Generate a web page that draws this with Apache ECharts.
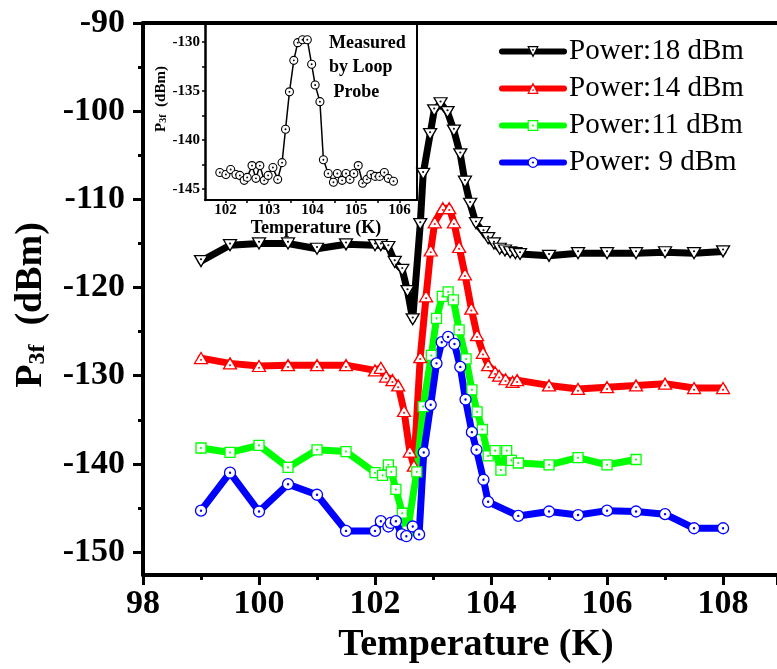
<!DOCTYPE html>
<html>
<head>
<meta charset="utf-8">
<script src="https://cdn.jsdelivr.net/npm/echarts@6/dist/echarts.min.js"></script>
<style>
  html, body { margin: 0; padding: 0; background: #fff; }
  #chart { width: 777px; height: 669px; }
</style>
</head>
<body>
<div id="chart"></div>
<script>
// ---- Third-harmonic power vs temperature, four drive powers ----
const temp18 = [99, 99.5, 100, 100.5, 101, 101.5, 102, 102.1, 102.23, 102.34, 102.47, 102.56, 102.65, 102.78, 102.83, 102.95, 103.02, 103.13, 103.25, 103.36, 103.47, 103.55, 103.64, 103.74, 103.87, 103.95, 104.05, 104.15, 104.24, 104.33, 104.42, 104.5, 105, 105.5, 106, 106.5, 107, 107.5, 108];
const power18 = [-117.0, -115.2, -115.0, -115.0, -115.6, -115.1, -115.2, -115.2, -115.4, -117.1, -118.0, -120.4, -123.6, -112.8, -107.1, -102.6, -99.9, -99.1, -100.1, -102.2, -104.9, -108.0, -110.5, -112.7, -113.7, -114.4, -115.0, -115.6, -115.8, -116.0, -116.1, -116.2, -116.4, -116.1, -116.1, -116.1, -116.0, -116.1, -115.9];

const temp14 = [99, 99.5, 100, 100.5, 101, 101.5, 102, 102.1, 102.19, 102.3, 102.4, 102.5, 102.6, 102.67, 102.78, 102.88, 102.96, 103.03, 103.17, 103.28, 103.36, 103.45, 103.55, 103.66, 103.76, 103.86, 103.95, 104.07, 104.14, 104.25, 104.37, 104.45, 105, 105.5, 106, 106.5, 107, 107.5, 108];
const power14 = [-128.0, -128.6, -128.9, -128.8, -128.8, -128.8, -129.4, -129.1, -130.1, -130.5, -131.1, -134.0, -138.6, -140.2, -127.9, -121.0, -115.8, -112.6, -111.0, -111.0, -112.6, -115.4, -118.5, -122.4, -125.4, -127.4, -128.8, -129.6, -130.0, -130.4, -130.7, -130.5, -131.1, -131.5, -131.3, -131.1, -130.9, -131.4, -131.4];

const temp11 = [99, 99.5, 100, 100.5, 101, 101.5, 102, 102.13, 102.23, 102.28, 102.36, 102.47, 102.56, 102.72, 102.83, 102.97, 103.06, 103.16, 103.26, 103.35, 103.45, 103.57, 103.67, 103.76, 103.85, 103.95, 104.07, 104.17, 104.27, 104.35, 104.47, 105, 105.5, 106, 106.5];
const power11 = [-138.2, -138.7, -137.9, -140.4, -138.4, -138.6, -141.0, -141.3, -140.1, -140.9, -142.9, -145.6, -147.6, -140.9, -133.5, -127.7, -123.5, -121.0, -120.5, -121.4, -124.8, -128.1, -131.6, -134.1, -136.1, -139.1, -138.5, -140.7, -138.5, -139.6, -139.9, -140.1, -139.3, -140.1, -139.5];

const temp9 = [99, 99.5, 100, 100.5, 101, 101.5, 102, 102.1, 102.23, 102.27, 102.36, 102.46, 102.54, 102.65, 102.76, 102.84, 102.96, 103.06, 103.15, 103.26, 103.37, 103.47, 103.56, 103.67, 103.75, 103.87, 103.95, 104.47, 105, 105.5, 106, 106.5, 107, 107.5, 108];
const power9 = [-145.3, -141.0, -145.4, -142.3, -143.5, -147.6, -147.6, -146.5, -147.1, -146.7, -146.5, -148.0, -148.2, -147.1, -148.0, -138.7, -133.3, -128.6, -126.2, -125.6, -126.4, -129.0, -132.7, -136.4, -138.4, -141.8, -144.3, -145.9, -145.4, -145.8, -145.3, -145.4, -145.7, -147.3, -147.3];

// ---- Loop-probe measurement (inset) ----
const probeTemp = [101.87, 102.01, 102.12, 102.24, 102.33, 102.43, 102.5, 102.61, 102.7, 102.79, 102.89, 102.98, 103.09, 103.2, 103.3, 103.38, 103.47, 103.57, 103.66, 103.77, 103.88, 103.98, 104.06, 104.17, 104.25, 104.36, 104.48, 104.57, 104.68, 104.77, 104.86, 104.95, 105.05, 105.15, 105.25, 105.34, 105.44, 105.54, 105.65, 105.74, 105.86];
const probePower = [-143.3, -143.5, -143.0, -143.5, -143.6, -144.1, -143.8, -142.6, -143.9, -142.6, -144.1, -143.6, -142.8, -144.0, -142.3, -138.9, -135.1, -131.9, -130.1, -129.8, -129.8, -132.3, -134.4, -136.1, -142.0, -143.4, -144.3, -143.4, -144.1, -143.4, -144.0, -143.4, -142.6, -144.4, -144.0, -143.5, -143.7, -143.7, -143.3, -143.9, -144.2];

// ---- Labels and ticks ----
const seriesNames = ['Power:18 dBm', 'Power:14 dBm', 'Power:11 dBm', 'Power: 9 dBm'];
const mainYTicks = [-150, -140, -130, -120, -110, -100, -90];
const mainYMinorTicks = [-145, -135, -125, -115, -105, -95];
const insetXLabels = [102, 103, 104, 105, 106];
const insetXTicks = [102, 102.5, 103, 103.5, 104, 104.5, 105, 105.5, 106];
const insetYLabels = [-145, -140, -135, -130];
const insetYTicks = [-145, -142.5, -140, -137.5, -135, -132.5, -130];

const SERIF = "'Liberation Serif', 'Times New Roman', serif";

// Marker shapes with a small centre dot
const SYM_DOWN = 'path://M0,0L100,0L50,86Z M47,29A3,3 0 1,0 53,29A3,3 0 1,0 47,29Z';
const SYM_UP = 'path://M50,0L100,86L0,86Z M47,57A3,3 0 1,0 53,57A3,3 0 1,0 47,57Z';
const SYM_SQUARE = 'path://M0,0L100,0L100,100L0,100Z M46,50A4,4 0 1,0 54,50A4,4 0 1,0 46,50Z';
const SYM_CIRCLE = 'path://M0,50A50,50 0 1,1 100,50A50,50 0 1,1 0,50Z M45,50A5,5 0 1,0 55,50A5,5 0 1,0 45,50Z';

const zip = (xs, ys) => xs.map((x, i) => [x, ys[i]]);

function mainSeries(name, xs, ys, color, symbol, size) {
  return {
    name: name,
    type: 'line',
    xAxisIndex: 0,
    yAxisIndex: 0,
    data: zip(xs, ys),
    symbol: symbol,
    symbolSize: size,
    showAllSymbol: true,
    lineStyle: { color: color, width: 7, cap: 'round', join: 'round' },
    itemStyle: { color: '#fff', borderColor: color, borderWidth: 1.3 },
    emphasis: { disabled: true },
    animation: false
  };
}

const chart = echarts.init(document.getElementById('chart'), null, { renderer: 'canvas' });

chart.setOption({
  backgroundColor: '#fff',
  animation: false,
  grid: [
    { left: 143, top: 23, width: 634, height: 552, outerBoundsMode: 'none' },
    { left: 205, top: 23, width: 212, height: 177, outerBoundsMode: 'none' }
  ],
  legend: {
    data: seriesNames,
    orient: 'vertical',
    left: 499,
    top: 37,
    padding: 0,
    itemWidth: 62,
    itemHeight: 12,
    itemGap: 8,
    lineStyle: { width: 6, cap: 'round' },
    itemStyle: { borderWidth: 1.2 },
    textStyle: { fontFamily: SERIF, fontSize: 29, color: '#000' },
    selectedMode: false
  },
  xAxis: [
    {
      gridIndex: 0, type: 'value', min: 98, max: 108.93, interval: 2,
      axisLine: { lineStyle: { color: '#000', width: 4 } },
      axisTick: { length: 10, lineStyle: { color: '#000', width: 3 } },
      minorTick: { show: true, splitNumber: 2, length: 5, lineStyle: { color: '#000', width: 3 } },
      splitLine: { show: false },
      axisLabel: { fontFamily: SERIF, fontSize: 34, fontWeight: 'bold', color: '#000', margin: 12, showMaxLabel: false },
      name: 'Temperature (K)',
      nameLocation: 'middle',
      nameGap: 50,
      nameTextStyle: { fontFamily: SERIF, fontSize: 38, fontWeight: 'bold', color: '#000', padding: [0, 0, 0, 32] }
    },
    {
      gridIndex: 0, type: 'value', min: 98, max: 108.93, position: 'top',
      axisLine: { lineStyle: { color: '#000', width: 4 } },
      axisTick: { show: false }, axisLabel: { show: false }, splitLine: { show: false }
    },
    {
      gridIndex: 1, type: 'value', min: 101.53, max: 106.4,
      axisLine: { lineStyle: { color: '#000', width: 2 } },
      axisTick: { customValues: insetXTicks, length: 3, lineStyle: { color: '#000', width: 1.5 } },
      splitLine: { show: false },
      axisLabel: { customValues: insetXLabels, fontFamily: SERIF, fontSize: 15, fontWeight: 'bold', color: '#000', margin: 3 },
      name: 'Temperature (K)',
      nameLocation: 'middle',
      nameGap: 14,
      nameTextStyle: { fontFamily: SERIF, fontSize: 18, fontWeight: 'bold', color: '#000', padding: [0, 0, 0, 10] }
    },
    {
      gridIndex: 1, type: 'value', min: 101.53, max: 106.4, position: 'top',
      axisLine: { lineStyle: { color: '#000', width: 2 } },
      axisTick: { show: false }, axisLabel: { show: false }, splitLine: { show: false }
    }
  ],
  yAxis: [
    {
      gridIndex: 0, type: 'value', min: -152.6, max: -90, position: 'left',
      axisLine: { show: true, lineStyle: { color: '#000', width: 4 } },
      axisTick: { show: true, customValues: mainYTicks, length: 10, lineStyle: { color: '#000', width: 3 } },
      splitLine: { show: false },
      axisLabel: { customValues: mainYTicks, fontFamily: SERIF, fontSize: 34, fontWeight: 'bold', color: '#000', margin: 18 },
      name: '{p|P}{s|3f}{p|  (dBm)}',
      nameLocation: 'middle',
      nameGap: 93,
      nameTextStyle: {
        color: '#000',
        padding: [0, 12, 0, 0],
        rich: {
          p: { fontFamily: SERIF, fontSize: 38, fontWeight: 'bold', color: '#000', lineHeight: 38, verticalAlign: 'top' },
          s: { fontFamily: SERIF, fontSize: 24, fontWeight: 'bold', color: '#000', lineHeight: 14, verticalAlign: 'bottom' }
        }
      }
    },
    {
      gridIndex: 0, type: 'value', min: -152.6, max: -90, position: 'left', offset: 0,
      axisLine: { show: false },
      axisTick: { show: true, customValues: mainYMinorTicks, length: 5, lineStyle: { color: '#000', width: 3 } },
      axisLabel: { show: false }, splitLine: { show: false }
    },
    {
      gridIndex: 1, type: 'value', min: -146.1, max: -128.1, position: 'left',
      axisLine: { show: true, lineStyle: { color: '#000', width: 2.5 } },
      axisTick: { show: true, customValues: insetYTicks, length: 3, lineStyle: { color: '#000', width: 1.5 } },
      splitLine: { show: false },
      axisLabel: { customValues: insetYLabels, fontFamily: SERIF, fontSize: 15, fontWeight: 'bold', color: '#000', margin: 5 },
      name: '{p|P}{s|3f}{p|  (dBm)}',
      nameLocation: 'middle',
      nameGap: 32,
      nameTextStyle: {
        color: '#000',
        padding: [0, 0, 0, 25],
        rich: {
          p: { fontFamily: SERIF, fontSize: 15, fontWeight: 'bold', color: '#000', lineHeight: 15, verticalAlign: 'top' },
          s: { fontFamily: SERIF, fontSize: 10, fontWeight: 'bold', color: '#000', lineHeight: 6, verticalAlign: 'bottom' }
        }
      }
    },
    {
      gridIndex: 1, type: 'value', min: -146.1, max: -128.1, position: 'right',
      axisLine: { show: true, lineStyle: { color: '#000', width: 2 } },
      axisTick: { show: false }, axisLabel: { show: false }, splitLine: { show: false }
    }
  ],
  graphic: [
    {
      type: 'text',
      left: 329, top: 31,
      style: {
        text: 'Measured\nby Loop\n Probe',
        font: "bold 18px 'Liberation Serif', 'Times New Roman', serif",
        lineHeight: 24.5,
        fill: '#000'
      }
    }
  ],
  series: [
    mainSeries(seriesNames[0], temp18, power18, '#000000', SYM_DOWN, [13, 11]),
    mainSeries(seriesNames[1], temp14, power14, '#ff0000', SYM_UP, [13, 11]),
    mainSeries(seriesNames[2], temp11, power11, '#00ff00', SYM_SQUARE, [10, 10]),
    mainSeries(seriesNames[3], temp9, power9, '#0000ff', SYM_CIRCLE, [11, 11]),
    {
      name: 'Loop probe',
      type: 'line',
      xAxisIndex: 2,
      yAxisIndex: 2,
      data: zip(probeTemp, probePower),
      symbol: SYM_CIRCLE,
      symbolSize: 8,
      showAllSymbol: true,
      lineStyle: { color: '#000', width: 1.5 },
      itemStyle: { color: '#fff', borderColor: '#000', borderWidth: 1.1 },
      emphasis: { disabled: true },
      animation: false
    }
  ]
});
</script>
</body>
</html>
